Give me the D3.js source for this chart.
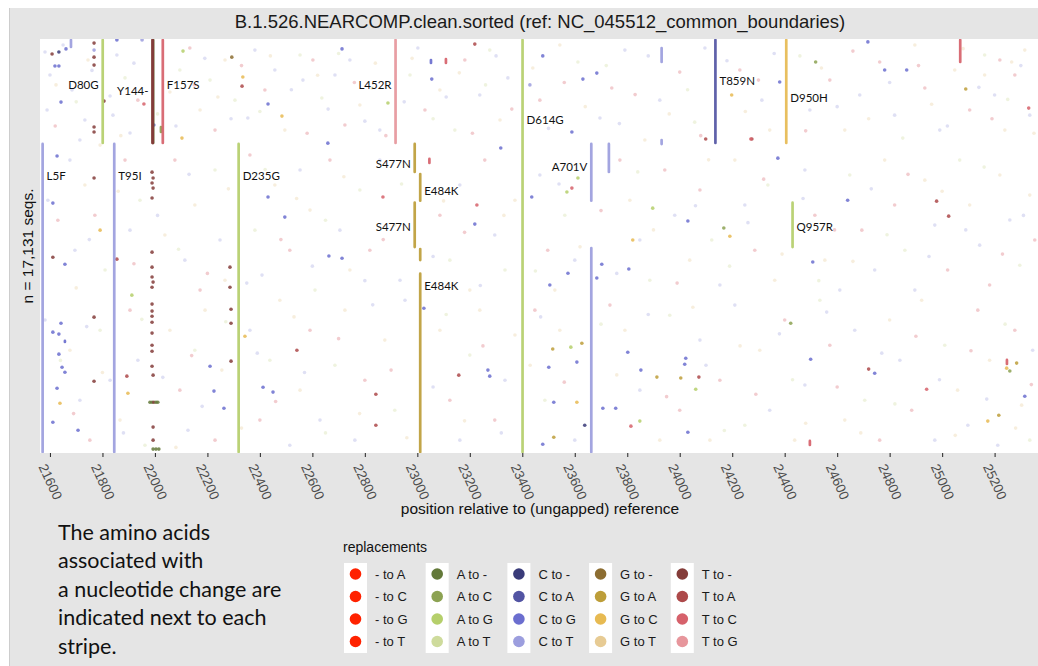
<!DOCTYPE html>
<html>
<head>
<meta charset="utf-8">
<script src="https://cdn.jsdelivr.net/npm/d3@7"></script>
<style>
  body { margin: 0; background: #fff; }
</style>
</head>
<body>
<div id="chart"></div>
<script>
// replacement classes, same order as the legend columns
const replacements = [
  "- to A", "- to C", "- to G", "- to T",
  "A to -", "A to C", "A to G", "A to T",
  "C to -", "C to A", "C to G", "C to T",
  "G to -", "G to A", "G to C", "G to T",
  "T to -", "T to A", "T to C", "T to G"
];
const replacementColors = [
  "#ff2200", "#ff2200", "#ff2200", "#ff2200",
  "#637939", "#8ca252", "#b5cf6b", "#cedb9c",
  "#393b79", "#5254a3", "#6b6ecf", "#9c9ede",
  "#8c6d31", "#bd9e39", "#e7ba52", "#e7cb94",
  "#843c39", "#ad494a", "#d6616b", "#e7969c"
];

const nSeqs = 17131;
const xTicks = [21600, 21800, 22000, 22200, 22400, 22600, 22800, 23000, 23200, 23400,
  23600, 23800, 24000, 24200, 24400, 24600, 24800, 25000, 25200];

// [position, first seq, last seq, replacement]
const stripes = [
  [21680, 0, 370, "CT"],
  [21801, 0, 4345, "AG"],
  [21993, 0, 4345, "A-"],
  [21991, 0, 4345, "T-"],
  [21992, 0, 4345, "T-"],
  [22023, 3600, 3890, "AC"],
  [22030, 0, 4345, "TC"],
  [22917, 0, 4345, "TG"],
  [23052, 830, 1030, "CG"],
  [23109, 790, 1030, "TC"],
  [23401, 0, 17131, "AG"],
  [23931, 330, 990, "CT"],
  [24136, 0, 4345, "CA"],
  [24406, 0, 4345, "GC"],
  [25069, 0, 990, "TC"],
  [21572, 4300, 17131, "CT"],
  [21845, 4300, 17131, "CT"],
  [22319, 4300, 17131, "AG"],
  [22990, 4300, 5545, "GA"],
  [23011, 5545, 6730, "GA"],
  [22990, 6730, 8650, "GA"],
  [23011, 8650, 9190, "GA"],
  [23011, 9670, 17131, "GA"],
  [23046, 4920, 5170, "TC"],
  [23663, 4300, 6730, "CT"],
  [23730, 4300, 5545, "CT"],
  [23663, 8610, 17131, "CT"],
  [24430, 6730, 8650, "AG"],
  [23931, 4140, 4390, "CT"],
  [21657, 12450, 12580, "CG"],
  [25247, 13240, 13490, "TC"],
  [24496, 16590, 16840, "TC"]
];

// [text, stripe position, seq, side]
const stripeLabels = [
  ["D80G", 21801, 2070, "left"],
  ["Y144-", 21991, 2320, "left"],
  ["F157S", 22030, 2070, "right"],
  ["L452R", 22917, 2070, "left"],
  ["D614G", 23401, 3520, "right"],
  ["T859N", 24136, 1900, "right"],
  ["D950H", 24406, 2610, "right"],
  ["L5F", 21572, 5840, "right"],
  ["T95I", 21845, 5840, "right"],
  ["D235G", 22319, 5840, "right"],
  ["S477N", 22990, 5330, "left"],
  ["E484K", 23011, 6460, "right"],
  ["S477N", 22990, 7930, "left"],
  ["E484K", 23011, 10390, "right"],
  ["A701V", 23663, 5450, "left"],
  ["Q957R", 24430, 7950, "right"]
];

// changes shared by a few seqs: [position, seq, replacement]
const clusterDots = [
  [21634, 540, "C-"], [21608, 620, "T-"], [21661, 410, "CG"], [21619, 1120, "CG"], [21634, 1120, "CG"],
  [21642, 2610, "CG"], [21806, 2570, "T-"], [21958, 2690, "TC"], [21996, 3560, "CG"], [22103, 4100, "GC"],
  [22335, 1570, "GC"], [22332, 1950, "TA"], [22293, 750, "G-"], [22107, 500, "AG"], [22431, 2690, "CG"],
  [22484, 3190, "GC"], [22713, 410, "CG"], [22888, 2650, "AG"], [23055, 1660, "CG"], [23219, 210, "TA"],
  [22659, 4310, "CG"], [21855, 40, "CG"], [21951, 40, "CT"], [21768, 170, "T-"], [21768, 460, "CT"],
  [21768, 750, "T-"], [21768, 1080, "T-"], [21768, 3640, "T-"], [21768, 3850, "T-"],
  [23478, 700, "CG"], [23684, 1410, "CG"], [23631, 1660, "CG"], [23429, 1900, "CT"], [23589, 3850, "CG"],
  [24717, 120, "CG"], [24518, 950, "AC"], [24781, 1280, "CG"], [24865, 1280, "CG"], [24381, 1780, "CG"],
  [24198, 2320, "GC"], [24099, 4140, "TA"], [24275, 4140, "TA"], [25330, 2860, "TC"], [25090, 2070, "GA"],
  [21627, 4840, "CG"], [21611, 6790, "CG"], [22431, 6540, "CG"], [22495, 7370, "CG"], [21791, 7910, "GC"],
  [21855, 9110, "TA"], [21657, 9320, "CG"], [21611, 9030, "T-"], [22663, 8980, "CG"], [22713, 9070, "CG"],
  [22286, 9440, "T-"], [22286, 10270, "T-"], [21912, 10600, "AG"], [21768, 5750, "T-"],
  [21989, 5510, "T-"], [21993, 5750, "T-"], [21989, 5960, "T-"], [21993, 6170, "T-"], [21989, 6580, "T-"],
  [21989, 8820, "T-"], [21989, 9440, "T-"], [21989, 9850, "T-"], [21993, 10060, "T-"], [21989, 10270, "T-"],
  [23318, 4510, "CG"], [23436, 6540, "CG"], [23219, 7660, "CG"], [23227, 6870, "TC"], [22869, 6540, "TC"],
  [23589, 6170, "TC"], [23570, 6330, "AG"], [23612, 5750, "AG"], [23897, 7000, "AG"], [24031, 7530, "CG"],
  [24168, 7820, "AC"], [24191, 8160, "GC"], [23821, 8320, "GC"], [23806, 9520, "CG"], [24507, 9230, "CG"],
  [24640, 6670, "CG"], [24271, 4140, "TC"], [24374, 4930, "CG"], [23684, 9890, "CG"], [23703, 9320, "CG"],
  [23505, 10180, "CG"], [23574, 9690, "CG"], [24979, 6710, "TA"], [25025, 7330, "TA"],
  [21642, 11760, "CG"], [21611, 12130, "CG"], [21634, 12210, "CG"], [21634, 13040, "CG"], [21646, 13580, "CG"],
  [21657, 13790, "CG"], [21627, 14450, "CG"], [21611, 15860, "CG"], [21707, 16190, "CG"], [21638, 15070, "GC"],
  [21768, 11510, "T-"], [21768, 14160, "T-"], [21893, 13950, "TA"], [21897, 14660, "GC"],
  [21989, 10970, "T-"], [21989, 11260, "T-"], [21989, 11470, "T-"], [21989, 11720, "T-"], [21989, 12170, "T-"],
  [21989, 12670, "T-"], [21989, 12920, "T-"], [21989, 13540, "T-"], [21993, 13910, "T-"], [21993, 16060, "T-"],
  [21993, 16600, "T-"],
  [21981, 15030, "A-"], [21989, 15030, "A-"], [21996, 15030, "T-"], [22004, 15030, "A-"], [22011, 15030, "A-"],
  [21993, 16970, "A-"], [22004, 16970, "A-"], [22015, 16970, "A-"],
  [22210, 13540, "CG"], [22225, 14570, "CG"], [22263, 15280, "CG"], [22290, 11180, "T-"], [22290, 11760, "T-"],
  [22290, 13330, "T-"], [22343, 12300, "GC"], [22412, 14410, "CG"], [22450, 14610, "CG"], [22541, 12880, "TA"],
  [22842, 14700, "TA"], [22842, 15980, "TA"], [23025, 11140, "CG"], [23158, 13910, "TA"], [23269, 13700, "CG"],
  [23276, 13950, "CG"],
  [24423, 11760, "AC"], [24499, 13250, "CG"], [24004, 14030, "GA"], [24073, 13990, "TA"], [24061, 14490, "AG"],
  [24019, 13460, "CG"], [24023, 13210, "CG"], [23913, 13990, "GA"], [23852, 13700, "CG"], [23802, 12960, "CG"],
  [23707, 15280, "CG"], [23756, 15280, "CG"], [23814, 16020, "TC"], [23848, 15810, "AG"], [23638, 15980, "C-"],
  [23608, 15030, "GC"], [23627, 12590, "GA"], [23585, 12750, "AG"], [23608, 13370, "CG"], [23516, 12830, "GA"],
  [23501, 13580, "CG"], [23520, 15030, "CG"], [23520, 16480, "GA"], [23478, 16770, "CG"], [24031, 16270, "CG"],
  [25284, 13410, "GA"], [25246, 13620, "GC"], [25258, 13740, "AC"], [24720, 13660, "TA"], [24743, 13830, "CG"],
  [25315, 14780, "CG"], [25174, 15810, "GC"], [25216, 15570, "GA"], [24941, 14490, "TC"]
];

// single-seq changes, drawn faint: [position, seq, replacement]
const singletonDots = [
  [21581, 540, "CT"], [21600, 1490, "CT"], [21589, 2940, "CT"], [21623, 1900, "GT"], [21650, 250, "CT"],
  [21684, 2110, "CT"], [21733, 3350, "CT"], [21714, 4180, "CT"], [21745, 870, "GT"], [21855, 660, "CT"],
  [21829, 2360, "CT"], [21840, 3150, "CT"], [21886, 1610, "AT"], [21905, 3890, "CT"], [21935, 2530, "TC"],
  [22057, 2190, "GT"], [22095, 1280, "AT"], [22133, 370, "TC"], [22172, 2940, "GT"], [22210, 1700, "AT"],
  [22229, 3770, "TC"], [22267, 870, "GT"], [22305, 2530, "AT"], [22354, 3270, "CT"], [22381, 460, "CT"],
  [22419, 2110, "TC"], [22457, 1280, "CT"], [22495, 3770, "GT"], [22553, 660, "AT"], [22564, 1700, "CT"],
  [22602, 870, "TC"], [22636, 2440, "AT"], [22686, 1490, "CT"], [22724, 3560, "TC"], [22743, 870, "CT"],
  [22781, 2730, "GT"], [22827, 2030, "AT"], [22857, 3770, "CT"], [22972, 1490, "AT"], [23002, 370, "CT"],
  [23029, 2940, "TC"], [23086, 2110, "GT"], [23143, 3770, "AT"], [23181, 870, "TC"], [23238, 2320, "CT"],
  [23276, 460, "AT"], [23315, 3350, "GT"], [23345, 1610, "CT"],
  [23467, 2530, "TC"], [23543, 250, "GT"], [23612, 950, "AT"], [23696, 3270, "CT"], [23741, 2030, "TC"],
  [23791, 460, "CT"], [23867, 4180, "GT"], [23924, 2530, "CT"], [24000, 1370, "TC"], [24057, 3440, "AT"],
  [24096, 370, "CT"], [24229, 1280, "TC"], [24313, 2530, "CT"], [24343, 3770, "GT"], [24458, 700, "AT"],
  [24496, 2940, "CT"], [24572, 1700, "TC"], [24629, 3770, "GT"], [24686, 2320, "CT"], [24762, 950, "TC"],
  [24819, 3150, "CT"], [24896, 250, "GT"], [24934, 2030, "TC"], [24991, 3770, "CT"], [25048, 1280, "GT"],
  [25105, 2940, "TC"], [25162, 660, "AT"], [25200, 2320, "CT"], [25239, 3770, "GT"], [25277, 1490, "TC"],
  [25315, 460, "GT"], [25334, 3150, "CT"], [25162, 1490, "GT"], [25220, 870, "TC"], [25265, 950, "GT"],
  [21592, 6670, "CT"], [21676, 5010, "CT"], [21695, 8740, "CT"], [21733, 6040, "GT"], [21771, 7290, "TC"],
  [21810, 9560, "AT"], [21791, 4390, "GT"], [21886, 5010, "TC"], [21905, 7910, "CT"], [21943, 6670, "AT"],
  [22038, 8110, "GT"], [22076, 5010, "TC"], [22114, 9150, "CT"], [22152, 6870, "GT"], [22172, 10390, "TC"],
  [22229, 5420, "AT"], [22248, 8320, "CT"], [22267, 9980, "GT"], [22362, 4800, "TC"], [22381, 7910, "AT"],
  [22408, 9770, "CT"], [22457, 6040, "GT"], [22514, 8740, "TC"], [22553, 5420, "CT"], [22591, 7080, "GT"],
  [22610, 10390, "AT"], [22667, 5010, "TC"], [22705, 7910, "CT"], [22743, 9560, "GT"], [22781, 6250, "AT"],
  [22819, 8740, "TC"], [22857, 5010, "CT"], [22914, 7700, "GT"], [22934, 9980, "CT"], [23086, 7290, "TC"],
  [23124, 9150, "AT"], [23162, 6040, "CT"], [23200, 10390, "GT"], [23257, 5010, "TC"], [23295, 8110, "CT"],
  [23334, 9560, "AT"], [23372, 6670, "GT"], [23467, 5630, "CT"], [23497, 8740, "TC"], [23524, 10390, "GT"],
  [23562, 7290, "AT"], [23600, 9150, "CT"], [23772, 5010, "TC"], [23810, 6670, "GT"], [23848, 8320, "CT"],
  [23886, 9980, "AT"], [23943, 5420, "TC"], [23981, 7290, "CT"], [24038, 9150, "GT"], [24077, 6250, "TC"],
  [24122, 8320, "AT"], [24153, 10180, "CT"], [24210, 5010, "GT"], [24248, 6870, "CT"], [24286, 8740, "TC"],
  [24336, 6040, "AT"], [24362, 9980, "GT"], [24477, 5420, "CT"], [24515, 7290, "TC"], [24553, 9150, "GT"],
  [24610, 10390, "CT"], [24648, 5630, "AT"], [24694, 7910, "TC"], [24743, 9560, "CT"], [24781, 5010, "GT"],
  [24819, 6870, "TC"], [24858, 8740, "AT"], [24896, 10390, "CT"], [24934, 5840, "GT"], [24972, 7700, "CT"],
  [25021, 9560, "TC"], [25067, 5010, "AT"], [25105, 6870, "GT"], [25143, 8530, "CT"], [25181, 10180, "TC"],
  [25220, 5630, "GT"], [25258, 7490, "CT"], [25296, 9360, "AT"], [25334, 6460, "GT"], [25353, 8320, "TC"],
  [21581, 11630, "CT"], [21676, 12880, "GT"], [21714, 14950, "CT"], [21752, 16600, "TC"], [21791, 12050, "AT"],
  [21829, 14120, "CT"], [21867, 15770, "GT"], [21905, 11220, "TC"], [21935, 13290, "CT"], [21962, 16810, "AT"],
  [22057, 12050, "GT"], [22095, 14530, "TC"], [22126, 16190, "CT"], [22152, 12880, "AT"], [22191, 11220, "GT"],
  [22229, 16600, "TC"], [22255, 13700, "GT"], [22362, 12050, "CT"], [22400, 15770, "TC"], [22438, 13290, "AT"],
  [22476, 10810, "GT"], [22514, 16810, "CT"], [22553, 14530, "GT"], [22591, 12050, "TC"], [22629, 15770, "CT"],
  [22686, 13500, "AT"], [22724, 11220, "GT"], [22762, 16600, "CT"], [22800, 14120, "TC"], [22876, 12460, "GT"],
  [22914, 15360, "AT"], [22953, 10810, "CT"], [23086, 12050, "GT"], [23124, 14950, "TC"], [23162, 16600, "CT"],
  [23200, 13080, "AT"], [23238, 11220, "GT"], [23295, 15770, "TC"], [23334, 14120, "CT"], [23372, 12250, "GT"],
  [23448, 11220, "TC"], [23486, 14950, "AT"], [23543, 12050, "GT"], [23600, 16600, "CT"], [23734, 11010, "TC"],
  [23791, 12050, "GT"], [23848, 14530, "CT"], [23924, 16600, "GT"], [23962, 11430, "AT"], [24000, 15360, "TC"],
  [24077, 12460, "CT"], [24115, 16600, "GT"], [24153, 14120, "TC"], [24210, 11010, "CT"], [24248, 15980, "AT"],
  [24305, 12880, "GT"], [24343, 15360, "CT"], [24400, 11630, "TC"], [24438, 16600, "GT"], [24477, 14320, "CT"],
  [24534, 10810, "AT"], [24572, 12670, "TC"], [24629, 15770, "GT"], [24667, 12050, "CT"], [24705, 14950, "AT"],
  [24762, 16600, "TC"], [24800, 11630, "GT"], [24839, 13290, "CT"], [24884, 15360, "TC"], [24922, 10810, "GT"],
  [24972, 16600, "CT"], [25010, 12670, "AT"], [25059, 14530, "GT"], [25098, 15980, "CT"], [25136, 11220, "TC"],
  [25181, 13290, "GT"], [25212, 16810, "CT"], [25277, 12050, "TC"], [25303, 15150, "GT"], [25345, 12880, "CT"],
  [25334, 16600, "AT"],
  [21620, 3600, "TC"], [21700, 2600, "AT"], [21760, 1300, "CT"], [21870, 4000, "GT"], [21920, 1000, "CT"],
  [22010, 3100, "AT"], [22080, 3600, "CT"], [22150, 1900, "TC"], [22190, 800, "CT"], [22240, 2400, "GT"],
  [22290, 3300, "CT"], [22330, 1100, "TC"], [22400, 3000, "AT"], [22440, 700, "GT"], [22520, 2100, "CT"],
  [22580, 3900, "TC"], [22620, 1500, "GT"], [22660, 2900, "CT"], [22700, 600, "AT"], [22760, 1800, "TC"],
  [22800, 3400, "CT"], [22840, 1000, "GT"], [22880, 4000, "TC"], [22950, 2600, "CT"], [22980, 800, "GT"],
  [23060, 3300, "AT"], [23110, 2400, "CT"], [23160, 1400, "GT"], [23210, 3900, "TC"], [23260, 1900, "AT"],
  [23300, 700, "CT"], [23360, 2900, "TC"], [23440, 1200, "GT"], [23500, 3700, "CT"], [23560, 1800, "TC"],
  [23640, 2800, "GT"], [23720, 1100, "AT"], [23770, 3500, "CT"], [23830, 2300, "TC"], [23880, 700, "CT"],
  [23960, 3100, "GT"], [24030, 2100, "AT"], [24080, 4000, "TC"], [24180, 900, "CT"], [24250, 3000, "GT"],
  [24300, 1700, "TC"], [24360, 600, "CT"], [24440, 2300, "AT"], [24480, 3800, "TC"], [24540, 1200, "GT"],
  [24600, 2800, "CT"], [24660, 500, "TC"], [24720, 3300, "GT"], [24800, 1800, "CT"], [24850, 4100, "AT"],
  [24910, 1100, "TC"], [24960, 2700, "GT"], [25020, 3600, "CT"], [25080, 400, "GT"], [25140, 2000, "CT"],
  [25190, 3300, "TC"], [25250, 2500, "AT"], [25300, 1100, "CT"], [25350, 3900, "GT"],
  [21630, 7500, "TC"], [21700, 10300, "GT"], [21750, 8300, "CT"], [21860, 6300, "GT"], [21920, 9300, "TC"],
  [22010, 7300, "CT"], [22090, 8700, "AT"], [22130, 5600, "CT"], [22200, 9700, "TC"], [22280, 6200, "GT"],
  [22350, 10100, "CT"], [22420, 5400, "AT"], [22480, 8300, "TC"], [22540, 6600, "GT"], [22600, 9400, "CT"],
  [22650, 7500, "AT"], [22720, 5700, "GT"], [22800, 10000, "CT"], [22870, 8300, "TC"], [22940, 6000, "AT"],
  [23060, 9000, "CT"], [23100, 6700, "GT"], [23180, 8000, "TC"], [23240, 10200, "CT"], [23330, 7300, "GT"],
  [23450, 9600, "AT"], [23540, 6000, "CT"], [23620, 8600, "GT"], [23700, 7100, "TC"], [23760, 9700, "CT"],
  [23840, 5500, "AT"], [23900, 7900, "GT"], [23990, 10100, "TC"], [24060, 6900, "CT"], [24110, 5000, "GT"],
  [24190, 9400, "AT"], [24260, 7600, "CT"], [24320, 5800, "TC"], [24390, 8900, "GT"], [24470, 6600, "CT"],
  [24530, 10000, "AT"], [24590, 7900, "TC"], [24660, 9200, "GT"], [24730, 6200, "CT"], [24790, 8100, "AT"],
  [24870, 5600, "TC"], [24950, 9000, "CT"], [25000, 6300, "GT"], [25090, 7900, "CT"], [25160, 5300, "AT"],
  [25230, 8900, "TC"], [25310, 7300, "CT"],
  [21640, 13300, "AT"], [21690, 15500, "TC"], [21740, 11900, "CT"], [21800, 13800, "GT"], [21880, 16300, "CT"],
  [21950, 11600, "AT"], [22030, 14000, "CT"], [22080, 16900, "GT"], [22140, 13100, "TC"], [22180, 15200, "CT"],
  [22270, 11700, "AT"], [22330, 16100, "GT"], [22390, 13000, "CT"], [22460, 15000, "TC"], [22530, 11500, "GT"],
  [22570, 13800, "CT"], [22650, 16300, "AT"], [22700, 12400, "TC"], [22780, 15500, "GT"], [22830, 11000, "CT"],
  [22900, 13700, "TC"], [22960, 16500, "GT"], [23060, 14400, "CT"], [23110, 11400, "AT"], [23180, 15800, "GT"],
  [23250, 12700, "TC"], [23320, 16300, "CT"], [23430, 13500, "GT"], [23470, 11500, "CT"], [23560, 14200, "TC"],
  [23700, 11800, "AT"], [23760, 13900, "GT"], [23880, 11400, "CT"], [23950, 14800, "TC"], [24050, 11100, "GT"],
  [24100, 13500, "CT"], [24170, 16200, "AT"], [24230, 12700, "GT"], [24290, 14700, "TC"], [24380, 12200, "CT"],
  [24430, 14100, "AT"], [24480, 15900, "GT"], [24560, 11300, "CT"], [24600, 14400, "TC"], [24690, 16300, "GT"],
  [24770, 13000, "CT"], [24820, 15100, "AT"], [24900, 12300, "TC"], [24990, 14100, "CT"], [25050, 16400, "GT"],
  [25110, 12900, "TC"], [25170, 14900, "CT"], [25240, 11800, "AT"], [25280, 16100, "GT"], [25340, 14300, "TC"]
];

const noteLines = [
  "The amino acids",
  "associated with",
  "a nucleotide change are",
  "indicated next to each",
  "stripe."
];

let drawChart = (locationId) => {
  const width = 1038;
  const height = 666;
  const panel = { left: 40, top: 39, right: 1040, bottom: 453 };
  const sans = "'Liberation Sans', Arial, sans-serif";

  const codeOf = (r) => r.split(" to ").join("");
  const color = d3.scaleOrdinal().domain(replacements.map(codeOf)).range(replacementColors);

  const svg = d3.select(locationId)
    .append("svg")
    .attr("width", width)
    .attr("height", height)
    .style("display", "block");

  // grey plot background with a thin border on the left
  svg.append("rect").attr("width", width).attr("height", height).attr("fill", "#fff");
  svg.append("rect").attr("x", 9).attr("y", 8).attr("width", width).attr("height", height)
    .attr("fill", "#e5e5e5");
  svg.append("line").attr("x1", 9.5).attr("x2", 9.5).attr("y1", 8).attr("y2", height)
    .attr("stroke", "#cdcdcd");

  const xScale = d3.scaleLinear().domain([21562, 25373]).range([panel.left, panel.right]);
  const yScale = d3.scaleLinear().domain([0, nSeqs]).range([panel.top, panel.bottom]);

  svg.append("clipPath").attr("id", "panel-clip")
    .append("rect")
    .attr("x", panel.left).attr("y", panel.top)
    .attr("width", panel.right - panel.left).attr("height", panel.bottom - panel.top);

  svg.append("rect")
    .attr("x", panel.left).attr("y", panel.top)
    .attr("width", panel.right - panel.left).attr("height", panel.bottom - panel.top)
    .attr("fill", "#fff");

  const plot = svg.append("g").attr("clip-path", "url(#panel-clip)");

  // faint single changes first, then the stronger ones
  plot.append("g")
    .selectAll("circle")
    .data(singletonDots)
    .join("circle")
    .attr("cx", (d) => xScale(d[0]))
    .attr("cy", (d) => yScale(d[1]))
    .attr("r", 1.8)
    .attr("fill", (d) => color(d[2]))
    .attr("opacity", 0.32);

  plot.append("g")
    .selectAll("circle")
    .data(clusterDots)
    .join("circle")
    .attr("cx", (d) => xScale(d[0]))
    .attr("cy", (d) => yScale(d[1]))
    .attr("r", 1.8)
    .attr("fill", (d) => color(d[2]))
    .attr("opacity", 0.85);

  // stripes shared by many seqs
  plot.append("g")
    .selectAll("line")
    .data(stripes)
    .join("line")
    .attr("x1", (d) => xScale(d[0]))
    .attr("x2", (d) => xScale(d[0]))
    .attr("y1", (d) => yScale(d[1]) + 1)
    .attr("y2", (d) => yScale(d[2]) - 1)
    .attr("stroke", (d) => color(d[3]))
    .attr("stroke-width", 2.7)
    .attr("stroke-linecap", "round")
    .attr("opacity", 0.92);

  plot.append("g")
    .selectAll("text")
    .data(stripeLabels)
    .join("text")
    .attr("x", (d) => xScale(d[1]) + (d[3] === "left" ? -4 : 4))
    .attr("y", (d) => yScale(d[2]))
    .attr("text-anchor", (d) => (d[3] === "left" ? "end" : "start"))
    .attr("font-family", "Lato, 'Open Sans', sans-serif")
    .attr("font-size", 11.5)
    .attr("fill", "#111")
    .text((d) => d[0]);

  // facet title
  svg.append("text")
    .attr("x", (panel.left + panel.right) / 2)
    .attr("y", 28)
    .attr("text-anchor", "middle")
    .attr("font-family", sans)
    .attr("font-size", 18.5)
    .attr("fill", "#1a1a1a")
    .text("B.1.526.NEARCOMP.clean.sorted (ref: NC_045512_common_boundaries)");

  // x axis with slanted labels
  const xAxis = svg.append("g")
    .attr("transform", `translate(0,${panel.bottom})`)
    .call(d3.axisBottom(xScale).tickValues(xTicks).tickSize(4).tickFormat(d3.format("d")));
  xAxis.select(".domain").remove();
  xAxis.selectAll(".tick line").attr("stroke", "#333").attr("stroke-width", 1.1);
  xAxis.selectAll(".tick text")
    .attr("x", 0).attr("y", 0).attr("dy", "1em")
    .attr("transform", "translate(0,8) rotate(65)")
    .attr("text-anchor", "start")
    .attr("font-family", sans)
    .attr("font-size", 13.5)
    .attr("fill", "#4d4d4d");

  svg.append("text")
    .attr("x", (panel.left + panel.right) / 2)
    .attr("y", 514)
    .attr("text-anchor", "middle")
    .attr("font-family", sans)
    .attr("font-size", 15.5)
    .attr("fill", "#111")
    .text("position relative to (ungapped) reference");

  svg.append("text")
    .attr("transform", `translate(33,${(panel.top + panel.bottom) / 2}) rotate(-90)`)
    .attr("text-anchor", "middle")
    .attr("font-family", sans)
    .attr("font-size", 15.5)
    .attr("fill", "#111")
    .text(`n = ${d3.format(",")(nSeqs)} seqs.`);

  // legend: five columns of four keys
  const legend = svg.append("g").attr("transform", "translate(344,0)");
  legend.append("text")
    .attr("x", -1).attr("y", 552)
    .attr("font-family", sans)
    .attr("font-size", 14)
    .attr("fill", "#111")
    .text("replacements");

  const colStep = 81.7;
  const rowStep = 22.5;
  const cols = d3.range(5);
  legend.selectAll("rect.key")
    .data(cols)
    .join("rect")
    .attr("class", "key")
    .attr("x", (c) => c * colStep)
    .attr("y", 563)
    .attr("width", 23)
    .attr("height", rowStep * 4)
    .attr("fill", "#fff");

  const keys = legend.selectAll("g.item")
    .data(replacements)
    .join("g")
    .attr("class", "item")
    .attr("transform", (d, i) =>
      `translate(${Math.floor(i / 4) * colStep},${574 + (i % 4) * rowStep})`);
  keys.append("circle")
    .attr("cx", 11.5)
    .attr("r", 5.8)
    .attr("fill", (d) => color(codeOf(d)));
  keys.append("text")
    .attr("x", 31)
    .attr("y", 4.6)
    .attr("font-family", sans)
    .attr("font-size", 13)
    .attr("fill", "#1a1a1a")
    .text((d) => d);

  // note on the bottom left
  svg.append("text")
    .attr("font-family", "Lato, 'Open Sans', sans-serif")
    .attr("font-size", 21.5)
    .attr("fill", "#111")
    .selectAll("tspan")
    .data(noteLines)
    .join("tspan")
    .attr("x", 58)
    .attr("y", (d, i) => 540 + i * 28.4)
    .text((d) => d);
};

drawChart("#chart");
</script>
</body>
</html>
